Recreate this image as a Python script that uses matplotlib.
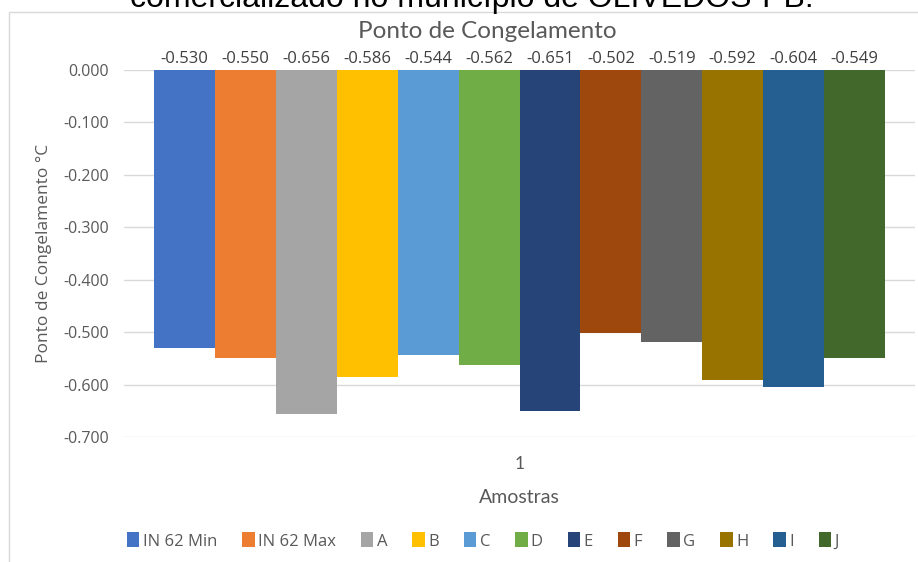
import matplotlib
matplotlib.use("Agg")
import matplotlib.pyplot as plt
from matplotlib.patches import Rectangle, Patch

series = ["IN 62 Min", "IN 62 Max", "A", "B", "C", "D", "E", "F", "G", "H", "I", "J"]
values = [-0.530, -0.550, -0.656, -0.586, -0.544, -0.562, -0.651, -0.502, -0.519, -0.592, -0.604, -0.549]
colors = ["#4472C4", "#ED7D31", "#A5A5A5", "#FFC000", "#5B9BD5", "#70AD47",
          "#264478", "#9E480E", "#636363", "#997300", "#255E91", "#43682B"]
yticks = [0.0, -0.1, -0.2, -0.3, -0.4, -0.5, -0.6, -0.7]
category = "1"

W, H = 918, 562
fig = plt.figure(figsize=(W / 100, H / 100), dpi=100)
fig.patch.set_facecolor("white")

# chart frame
fig.patches.append(Rectangle((9 / W, -0.01), 1.0, 1 - 12 / H + 0.01, transform=fig.transFigure,
                             fill=False, edgecolor="#D9D9D9", linewidth=1.0))

# clipped caption at top
fig.text(472 / W, 1 - 7 / H, "comercializado no município de OLIVEDOS-PB.", ha="center", va="baseline",
         fontsize=23, family="Liberation Sans", color="black")

left, right = 124 / W, 915 / W
bottom, top = 1 - 437 / H, 1 - 70 / H
ax = fig.add_axes([left, bottom, right - left, top - bottom])

n = len(values)
bw = (731 / 791) / n
x0 = -bw * n / 2
for i, (v, c) in enumerate(zip(values, colors)):
    x = x0 + bw * (i + 0.5)
    ax.bar(x, v, width=bw, color=c, edgecolor="none", zorder=3)
    ax.text(x, 0.005, f"{v:.3f}", ha="center", va="bottom", fontsize=12,
            family="Open Sans", color="#404040")

ax.set_xlim(-0.5, 0.5)
ax.set_ylim(-0.7, 0.0)
ax.set_yticks(yticks)
ax.set_yticklabels([f"{t:.3f}" for t in yticks], family="Open Sans", fontsize=11.5, color="#595959")
ax.set_xticks([0])
ax.set_xticklabels([category], family="Lato", fontsize=12.5, color="#595959")
ax.tick_params(axis="both", length=0)
ax.tick_params(axis="y", pad=11)
ax.tick_params(axis="x", pad=14)
ax.grid(axis="y", color="#D9D9D9", linewidth=1.0, zorder=0)
for s in ax.spines.values():
    s.set_visible(False)
ax.set_facecolor("none")

ax.set_ylabel("Ponto de Congelamento °C", family="Open Sans", fontsize=12.5, color="#595959", labelpad=8)
ax.set_xlabel("Amostras", family="Lato", fontsize=14, color="#595959", labelpad=12)

fig.text(487 / W, 1 - 31 / H, "Ponto de Congelamento", ha="center", va="center",
         fontsize=17.5, family="Lato", color="#595959")

handles = [Patch(facecolor=c, edgecolor="none") for c in colors]
leg = fig.legend(handles, series, loc="center", bbox_to_anchor=(483 / W, 1 - 541 / H), ncol=n,
                 frameon=False, handlelength=0.75, handleheight=1.0, handletextpad=0.2,
                 columnspacing=1.5, prop={"family": "Open Sans", "size": 12})
for t in leg.get_texts():
    t.set_color("#595959")

fig.savefig("out.png", dpi=100, facecolor="white")
